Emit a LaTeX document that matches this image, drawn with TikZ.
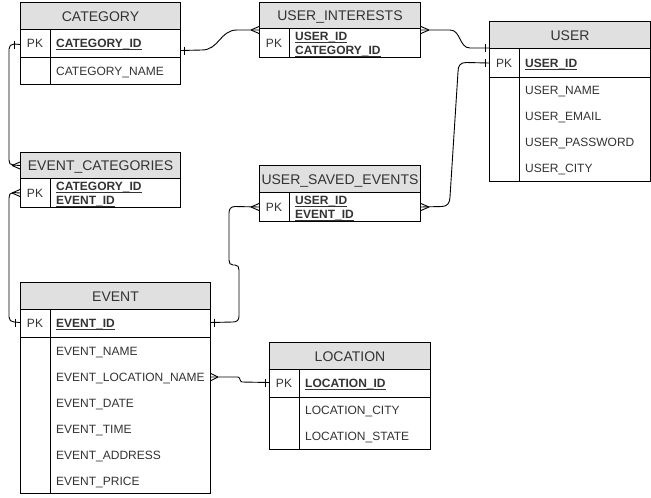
\documentclass[tikz,border=0pt]{standalone}
\usepackage{fontspec}
\setmainfont{Liberation Sans}
\usetikzlibrary{calc}
\definecolor{hdrgray}{HTML}{E0E0E0}
\definecolor{txtgray}{HTML}{333333}
\newcommand\keyul[1]{\setbox0\hbox{#1}\rlap{\rule[-2.2pt]{\wd0}{0.8pt}}\box0}
\newcommand\mycrow[2]{\draw[conn] ($(#1)+(#2,0)$) -- ($(#1)+(0,-3.5)$) ($(#1)+(#2,0)$) -- ($(#1)+(0,3.5)$);}
\newcommand\mybar[2]{\draw[conn] ($(#1)+(#2,-4)$) -- ($(#1)+(#2,4)$);}
\begin{document}
\begin{tikzpicture}[x=1pt,y=-1pt,
 hdr/.style={draw, fill=hdrgray, line width=1pt, anchor=north west, inner sep=0pt, text=txtgray, font=\fontsize{14}{16}\selectfont, text height=10pt, text depth=0pt},
 tblrow/.style={draw, line width=1pt, anchor=north west, inner sep=0pt},
 attr/.style={anchor=west, inner sep=0pt, text=txtgray, font=\fontsize{12}{14}\selectfont, text height=8.6pt, text depth=0pt},
 keyattr/.style={attr, font=\fontsize{12}{14}\selectfont\bfseries},
 pklbl/.style={anchor=center, inner sep=0pt, text=txtgray, font=\fontsize{12}{14}\selectfont, text height=8.6pt, text depth=0pt},
 conn/.style={line width=0.9pt},
 divider/.style={line width=1pt}]
\useasboundingbox (0,0) rectangle (651,498);
\fill[white] (0,0) rectangle (651,498);

% CATEGORY
\node[hdr, minimum width=160pt, minimum height=27pt] (cath) at (20,2) {CATEGORY};
\node[tblrow, minimum width=160pt, minimum height=28pt] (catpk) at (20,29) {};
\node[tblrow, minimum width=160pt, minimum height=27pt] (catrest) at (20,57) {};
\draw[divider] ($(catpk.north west)+(30,0)$) -- ($(catrest.south west)+(30,0)$);
\node[pklbl] (catpkl) at ($(catpk.west)+(15,0)$) {PK};
\node[keyattr] (catid) at ($(catpk.west)+(36,0)$) {\keyul{CATEGORY\_ID}};
\node[attr] (catname) at ($(catrest.west)+(36,0)$) {CATEGORY\_NAME};

% USER_INTERESTS
\node[hdr, minimum width=161pt, minimum height=26pt] (uih) at (259,2) {USER\_INTERESTS};
\node[tblrow, minimum width=161pt, minimum height=29pt] (uipk) at (259,28) {};
\draw[divider] ($(uipk.north west)+(30,0)$) -- ($(uipk.south west)+(30,0)$);
\node[pklbl] (uipkl) at ($(uipk.west)+(15,0)$) {PK};
\node[keyattr] (uiuid) at ($(uipk.west)+(36,-7)$) {\keyul{USER\_ID}};
\node[keyattr] (uicid) at ($(uipk.west)+(36,7)$) {\keyul{CATEGORY\_ID}};

% USER
\node[hdr, minimum width=161pt, minimum height=27pt] (userh) at (489,21) {USER};
\node[tblrow, minimum width=161pt, minimum height=29pt] (userpk) at (489,48) {};
\node[tblrow, minimum width=161pt, minimum height=104pt] (userrest) at (489,77) {};
\draw[divider] ($(userpk.north west)+(30,0)$) -- ($(userrest.south west)+(30,0)$);
\node[pklbl] (userpkl) at ($(userpk.west)+(15,0)$) {PK};
\node[keyattr] (userid) at ($(userpk.west)+(36,0)$) {\keyul{USER\_ID}};
\node[attr] (username) at ($(userrest.north west)+(36,13)$) {USER\_NAME};
\node[attr] (useremail) at ($(userrest.north west)+(36,39)$) {USER\_EMAIL};
\node[attr] (userpass) at ($(userrest.north west)+(36,65)$) {USER\_PASSWORD};
\node[attr] (usercity) at ($(userrest.north west)+(36,91)$) {USER\_CITY};

% EVENT_CATEGORIES
\node[hdr, minimum width=160pt, minimum height=26pt] (ech) at (20,152) {EVENT\_CATEGORIES};
\node[tblrow, minimum width=160pt, minimum height=29pt] (ecpk) at (20,178) {};
\draw[divider] ($(ecpk.north west)+(30,0)$) -- ($(ecpk.south west)+(30,0)$);
\node[pklbl] (ecpkl) at ($(ecpk.west)+(15,0)$) {PK};
\node[keyattr] (eccid) at ($(ecpk.west)+(36,-7)$) {\keyul{CATEGORY\_ID}};
\node[keyattr] (eceid) at ($(ecpk.west)+(36,7)$) {\keyul{EVENT\_ID}};

% USER_SAVED_EVENTS
\node[hdr, minimum width=161pt, minimum height=27pt] (useh) at (259,165) {USER\_SAVED\_EVENTS};
\node[tblrow, minimum width=161pt, minimum height=29pt] (usepk) at (259,192) {};
\draw[divider] ($(usepk.north west)+(30,0)$) -- ($(usepk.south west)+(30,0)$);
\node[pklbl] (usepkl) at ($(usepk.west)+(15,0)$) {PK};
\node[keyattr] (useuid) at ($(usepk.west)+(36,-7)$) {\keyul{USER\_ID}};
\node[keyattr] (useeid) at ($(usepk.west)+(36,7)$) {\keyul{EVENT\_ID}};

% EVENT
\node[hdr, minimum width=190pt, minimum height=27pt] (evh) at (20,282) {EVENT};
\node[tblrow, minimum width=190pt, minimum height=28pt] (evpk) at (20,309) {};
\node[tblrow, minimum width=190pt, minimum height=156pt] (evrest) at (20,337) {};
\draw[divider] ($(evpk.north west)+(30,0)$) -- ($(evrest.south west)+(30,0)$);
\node[pklbl] (evpkl) at ($(evpk.west)+(15,0)$) {PK};
\node[keyattr] (evid) at ($(evpk.west)+(36,0)$) {\keyul{EVENT\_ID}};
\node[attr] (evname) at ($(evrest.north west)+(36,14)$) {EVENT\_NAME};
\node[attr] (evloc) at ($(evrest.north west)+(36,40)$) {EVENT\_LOCATION\_NAME};
\node[attr] (evdate) at ($(evrest.north west)+(36,66)$) {EVENT\_DATE};
\node[attr] (evtime) at ($(evrest.north west)+(36,92)$) {EVENT\_TIME};
\node[attr] (evaddr) at ($(evrest.north west)+(36,118)$) {EVENT\_ADDRESS};
\node[attr] (evprice) at ($(evrest.north west)+(36,144)$) {EVENT\_PRICE};

% LOCATION
\node[hdr, minimum width=161pt, minimum height=27pt] (loch) at (269,342) {LOCATION};
\node[tblrow, minimum width=161pt, minimum height=28pt] (locpk) at (269,369) {};
\node[tblrow, minimum width=161pt, minimum height=52pt] (locrest) at (269,397) {};
\draw[divider] ($(locpk.north west)+(30,0)$) -- ($(locrest.south west)+(30,0)$);
\node[pklbl] (locpkl) at ($(locpk.west)+(15,0)$) {PK};
\node[keyattr] (locid) at ($(locpk.west)+(36,0)$) {\keyul{LOCATION\_ID}};
\node[attr] (loccity) at ($(locrest.north west)+(36,13)$) {LOCATION\_CITY};
\node[attr] (locstate) at ($(locrest.north west)+(36,39)$) {LOCATION\_STATE};

% connectors
\coordinate (c1a) at ($(catpk.east)+(0,7)$);
\coordinate (c1b) at ($(uipk.north west)+(0,2)$);
\draw[conn] (c1a) -- (202,50) .. controls (219,50) and (220,30) .. (237,30) -- (c1b);
\mybar{c1a}{3}
\mycrow{c1b}{-8}

\coordinate (c2a) at ($(uipk.north east)+(0,2)$);
\coordinate (c2b) at (userpk.north west);
\draw[conn] (c2a) -- (450,30) .. controls (461,30) and (459,48) .. (470,48) -- (c2b);
\mycrow{c2a}{8}
\mybar{c2b}{-4}

\coordinate (c3a) at (userpk.west);
\coordinate (c3b) at (usepk.east);
\draw[conn] (c3a) -- (466,62.5) .. controls (460,62.5) and (458,66) .. (458,72) -- (450,197) .. controls (450,203) and (447,206.5) .. (442,206.5) -- (c3b);
\mybar{c3a}{-4}
\mycrow{c3b}{8}

\coordinate (c4a) at ($(catpk.west)+(0,1)$);
\coordinate (c4b) at (ech.west);
\draw[conn] (c4a) -- (14,44) .. controls (11,44) and (9,46) .. (9,49) -- (9,160) .. controls (9,163) and (10,165) .. (13,165) -- (c4b);
\mybar{c4a}{-6}
\mycrow{c4b}{-8}

\coordinate (c5a) at ($(evpk.west)+(0,-1)$);
\coordinate (c5b) at (ecpk.west);
\draw[conn] (c5a) -- (14,322) .. controls (11,322) and (9,320) .. (9,317) -- (9,198) .. controls (9,195) and (10,192.5) .. (13,192.5) -- (c5b);
\mybar{c5a}{-5}
\mycrow{c5b}{-8}

\coordinate (c6a) at ($(evpk.east)+(0,-1)$);
\coordinate (c6b) at (usepk.west);
\draw[conn] (c6a) -- (233,322) .. controls (237,322) and (239,320) .. (239,316) -- (239,270) .. controls (239,267) and (238,265) .. (235,265) -- (233,265) .. controls (230,265) and (229,263) .. (229,260) -- (229,213) .. controls (229,209) and (231,206.5) .. (235,206.5) -- (c6b);
\mybar{c6a}{3}
\mycrow{c6b}{-8}

\coordinate (c7a) at ($(evrest.north east)+(0,40)$);
\coordinate (c7b) at ($(locpk.west)+(0,-1)$);
\draw[conn] (c7a) -- (238,377) .. controls (240,377) and (240,382) .. (242,382) -- (c7b);
\mycrow{c7a}{7}
\mybar{c7b}{-4}
\end{tikzpicture}
\end{document}
